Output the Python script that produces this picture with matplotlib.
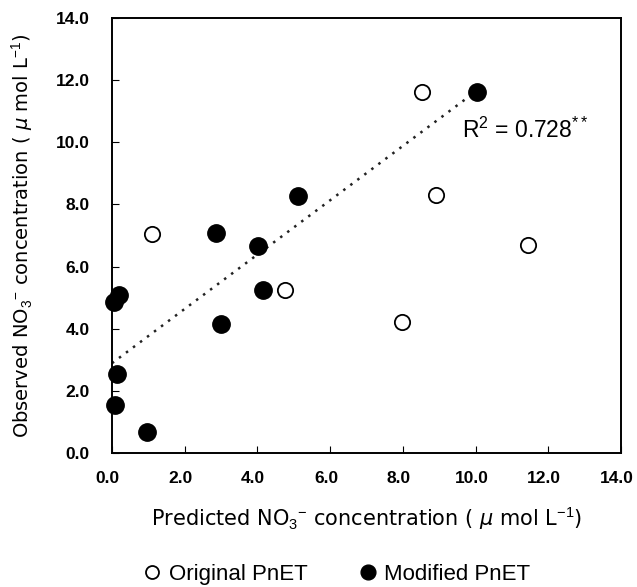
import numpy as np
import matplotlib
matplotlib.use("Agg")
import matplotlib.pyplot as plt
from matplotlib.transforms import ScaledTranslation

plt.rcParams['font.family'] = ['Liberation Sans', 'DejaVu Sans']
plt.rcParams['mathtext.fontset'] = 'custom'
plt.rcParams['mathtext.rm'] = 'Liberation Sans'
plt.rcParams['mathtext.it'] = 'DejaVu Sans:italic'

# Original PnET (predicted, observed)
orig_pred = [1.11, 8.53, 8.91, 11.44, 4.77, 7.99]
orig_obs = [7.06, 11.63, 8.30, 6.71, 5.23, 4.20]

# Modified PnET (predicted, observed)
mod_pred = [10.03, 5.13, 2.85, 4.02, 4.15, 2.99, 0.20, 0.05, 0.14, 0.09, 0.97]
mod_obs = [11.63, 8.26, 7.09, 6.65, 5.23, 4.15, 5.07, 4.86, 2.55, 1.53, 0.68]

# regression line
fit_x = [0.0, 9.85]
fit_intercept = 2.89
fit_slope = 0.874

ticks = [0, 2, 4, 6, 8, 10, 12, 14]
tick_labels = ['0.0', '2.0', '4.0', '6.0', '8.0', '10.0', '12.0', '14.0']

fig = plt.figure(figsize=(6.37, 5.87), dpi=100)
ax = fig.add_axes([0.1758, 0.2283, 0.799, 0.7410])

fx = np.array(fit_x)
ax.plot(fx, fit_intercept + fit_slope * fx, linestyle=(0, (1, 2.5)), color='#222222', lw=1.8)

ax.plot(orig_pred, orig_obs, 'o', ms=11, mfc='white', mec='black', mew=1.3,
        ls='none', label='Original PnET', clip_on=False)
ax.plot(mod_pred, mod_obs, 'o', ms=12.5, mfc='black', mec='black',
        ls='none', label='Modified PnET', clip_on=False)

ax.text(9.62, 10.38, r'R$^2$ = 0.728$^{**}$', fontsize=16.5, va='center', ha='left')

ax.set_xlim(0, 14)
ax.set_ylim(0, 14)
ax.set_xticks(ticks)
ax.set_xticklabels(tick_labels, fontweight='bold')
ax.set_yticks(ticks)
ax.set_yticklabels(tick_labels, fontweight='bold')
ax.tick_params(axis='x', direction='in', length=5, pad=13, labelsize=12.5)
ax.tick_params(axis='y', direction='in', length=5, pad=16, labelsize=12.5)
shift = ScaledTranslation(-3 / 72, 0, fig.dpi_scale_trans)
for lab in ax.get_xticklabels():
    lab.set_transform(lab.get_transform() + shift)
for s in ax.spines.values():
    s.set_linewidth(1.4)

ax.set_xlabel(r'Predicted NO$_3$$^{-}$ concentration ( $\mu$ mol L$^{-1}$)',
              fontsize=15, labelpad=14, family='DejaVu Sans')
ax.set_ylabel(r'Observed NO$_3$$^{-}$ concentration ( $\mu$ mol L$^{-1}$)',
              fontsize=14, labelpad=14, family='DejaVu Sans')

fig.legend(loc='lower center', ncol=2, frameon=False, fontsize=16,
           bbox_to_anchor=(0.527, -0.03), handlelength=1.0, handletextpad=0.25,
           columnspacing=2.2, markerscale=0.85)

fig.savefig('out.png', dpi=100)
